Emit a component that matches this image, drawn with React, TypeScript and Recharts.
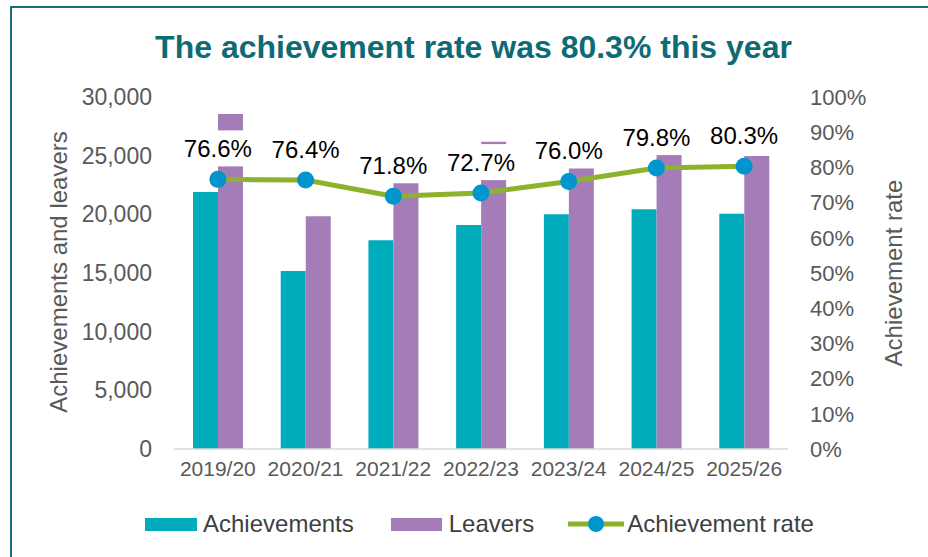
import React from 'react';
import { ComposedChart, Bar, Line, XAxis, YAxis, Legend, LabelList } from 'recharts';

const categories = ['2019/20', '2020/21', '2021/22', '2022/23', '2023/24', '2024/25', '2025/26'];
const achievements = [21900, 15170, 17790, 19090, 20000, 20430, 20050];
const leavers = [28550, 19830, 22760, 26190, 24060, 25140, 24970];
const achievementRate = [76.6, 76.4, 71.8, 72.7, 76.0, 79.8, 80.3];
const leftTicks = [0, 5000, 10000, 15000, 20000, 25000, 30000];
const rightTicks = [0, 10, 20, 30, 40, 50, 60, 70, 80, 90, 100];

const TEAL = '#00ABBC';
const PURPLE = '#A47CB7';
const GREEN = '#8DB22B';
const BLUE = '#0095CD';
const FONT = '"Liberation Sans", Arial, sans-serif';

const data = categories.map((c, i) => ({
  year: c,
  achievements: achievements[i],
  leavers: leavers[i],
  rate: achievementRate[i],
}));

const RateLabel = (props: any) => {
  const { x, y, value } = props;
  const cy = y - 31;
  return (
    <g>
      <rect x={x - 39} y={cy - 18} width={78} height={36} fill="#ffffff" />
      <text x={x} y={cy} textAnchor="middle" dominantBaseline="central" fontSize={24} fill="#000000" fontFamily={FONT}>
        {`${Number(value).toFixed(1)}%`}
      </text>
    </g>
  );
};

const LegendContent = () => (
  <div style={{ display: 'flex', alignItems: 'center', paddingLeft: 145, fontFamily: FONT, fontSize: 24, color: '#404040', height: 30 }}>
    <div style={{ width: 52, height: 13, background: TEAL }} />
    <span style={{ marginLeft: 6 }}>Achievements</span>
    <div style={{ width: 51, height: 13, background: PURPLE, marginLeft: 37 }} />
    <span style={{ marginLeft: 7 }}>Leavers</span>
    <svg width={56} height={20} style={{ marginLeft: 34 }}>
      <line x1={0} y1={10} x2={56} y2={10} stroke={GREEN} strokeWidth={5} />
      <circle cx={28} cy={10} r={8} fill={BLUE} />
    </svg>
    <span style={{ marginLeft: 3 }}>Achievement rate</span>
  </div>
);

export default function App() {
  return (
    <div style={{ position: 'absolute', left: 0, top: 0, width: 928, height: 557, background: '#ffffff', overflow: 'hidden', fontFamily: FONT }}>
      <div style={{ position: 'absolute', left: 10, top: 6, width: 940, height: 580, borderTop: '2px solid #196E7B', borderLeft: '2px solid #196E7B' }} />
      <div style={{ position: 'absolute', left: 0, top: 27, width: 947, textAlign: 'center', fontSize: 32, fontWeight: 'bold', color: '#0E6B76', lineHeight: '40px' }}>
        The achievement rate was 80.3% this year
      </div>
      <div style={{ position: 'absolute', left: 0, top: 0 }}>
        <ComposedChart width={928} height={557} data={data} margin={{ top: 97, right: 0, bottom: 18, left: 0 }} barGap={0} barSize={25}>
          <XAxis
            dataKey="year"
            height={60}
            tickLine={false}
            tickMargin={6}
            axisLine={{ stroke: '#D9D9D9', strokeWidth: 1.5 }}
            tick={{ fill: '#595959', fontSize: 21, fontFamily: FONT }}
          />
          <YAxis
            yAxisId="left"
            width={174}
            domain={[0, 30000]}
            ticks={leftTicks}
            tickFormatter={(v: number) => v.toLocaleString('en-GB')}
            tickLine={false}
            axisLine={false}
            tickMargin={16}
            tick={{ fill: '#595959', fontSize: 23, fontFamily: FONT }}
            label={{
              content: () => (
                <text x={58} y={272} transform="rotate(-90 58 272)" textAnchor="middle" dominantBaseline="central" fontSize={24} fill="#595959" fontFamily={FONT}>
                  Achievements and leavers
                </text>
              ),
            }}
          />
          <YAxis
            yAxisId="right"
            orientation="right"
            width={140}
            domain={[0, 100]}
            ticks={rightTicks}
            tickFormatter={(v: number) => `${v}%`}
            tickLine={false}
            axisLine={false}
            tickMargin={16}
            tick={{ fill: '#595959', fontSize: 22, fontFamily: FONT }}
            label={{
              content: () => (
                <text x={893} y={273} transform="rotate(-90 893 273)" textAnchor="middle" dominantBaseline="central" fontSize={24} fill="#595959" fontFamily={FONT}>
                  Achievement rate
                </text>
              ),
            }}
          />
          <Legend verticalAlign="bottom" height={30} wrapperStyle={{ left: 0, width: 928 }} content={() => <LegendContent />} />
          <Bar yAxisId="left" dataKey="achievements" name="Achievements" fill={TEAL} isAnimationActive={false} />
          <Bar yAxisId="left" dataKey="leavers" name="Leavers" fill={PURPLE} isAnimationActive={false} />
          <Line
            yAxisId="right"
            dataKey="rate"
            name="Achievement rate"
            stroke={GREEN}
            strokeWidth={5}
            dot={{ r: 8.5, fill: BLUE, stroke: 'none' }}
            activeDot={false}
            isAnimationActive={false}
          >
            <LabelList dataKey="rate" content={<RateLabel />} />
          </Line>
        </ComposedChart>
      </div>
    </div>
  );
}
